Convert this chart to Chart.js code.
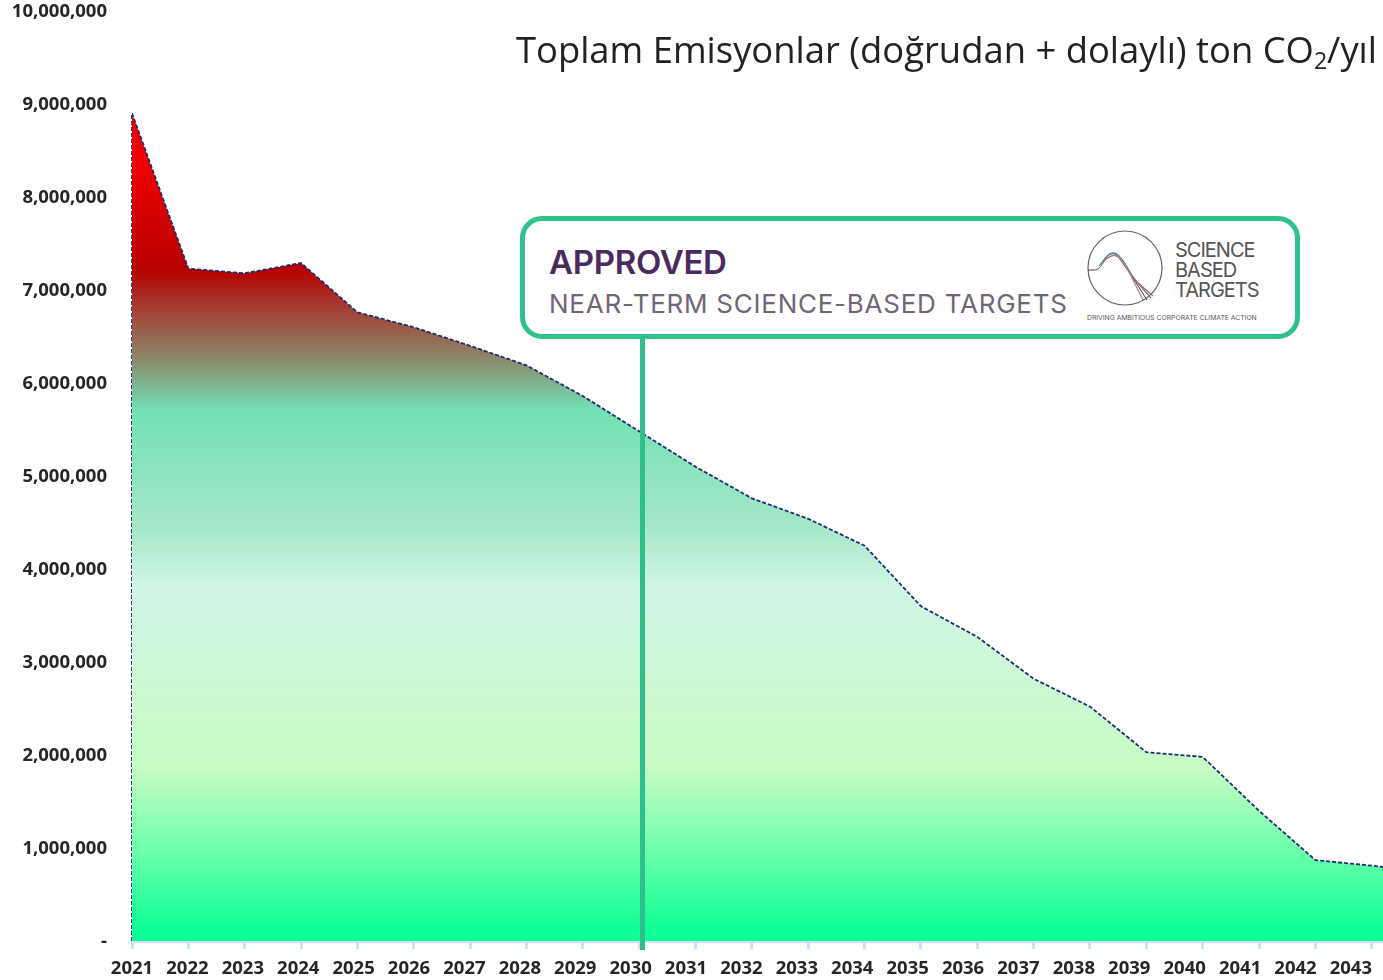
<!DOCTYPE html>
<html lang="tr">
<head>
<meta charset="utf-8">
<script src="https://cdn.jsdelivr.net/npm/chart.js@4/dist/chart.umd.min.js"></script>
<style>
html,body{margin:0;padding:0;background:#fff;width:1383px;height:980px;overflow:hidden}
#wrap{position:relative;width:1383px;height:980px}
canvas{position:absolute;left:0;top:0}
#title{position:absolute;right:6px;top:25px;font:36.4px "Open Sans",sans-serif;color:#222;white-space:nowrap;line-height:48px}
#title sub{font-size:23px;line-height:0;vertical-align:-6px}
#stem{position:absolute;left:640px;top:336px;width:5px;height:614px;background:#2fbf8a}
#box{position:absolute;left:520px;top:216px;width:770px;height:113px;border:5px solid #2cc28a;border-radius:22px;background:#fff}
#appr{position:absolute;left:549px;top:241px;font:600 33px Inter,sans-serif;letter-spacing:-.3px;color:#4a2a5f;white-space:nowrap;line-height:42px}
#near{position:absolute;left:549px;top:287px;font:400 26px Inter,sans-serif;letter-spacing:.75px;color:#6f6678;white-space:nowrap;line-height:34px}
#logo{position:absolute;left:1085px;top:228px}
.sb{position:absolute;left:1175px;font:400 20px Inter,sans-serif;letter-spacing:-1px;color:#555;line-height:22px;white-space:nowrap}
#tag{position:absolute;left:1087px;top:313px;font:400 6.8px Inter,sans-serif;color:#555;white-space:nowrap;line-height:10px}
</style>
</head>
<body>
<div id="wrap">
<canvas id="c" width="1383" height="980"></canvas>
<div id="title">Toplam Emisyonlar (doğrudan + dolaylı) ton CO<sub>2</sub>/yıl</div>
<div id="stem"></div>
<div id="box"></div>
<div id="appr">APPROVED</div>
<div id="near">NEAR-TERM SCIENCE-BASED TARGETS</div>
<svg id="logo" width="82" height="82" viewBox="0 0 82 82" fill="none">
<circle cx="40" cy="40" r="37" stroke="#666" stroke-width="1.2"/>
<path d="M3 42 H11 C18 40 20 26 27 25 C35 24 40 36 48 50 L62 72" stroke="#444" stroke-width="1"/>
<path d="M14 38 C20 30 24 24 30 26 C38 29 42 40 50 52 L66 70" stroke="#3f8fa0" stroke-width="1.2"/>
<path d="M18 34 C24 28 30 25 34 30 C40 38 44 44 52 54 L68 68" stroke="#b05a5a" stroke-width="1.2"/>
<path d="M28 27 C36 28 42 40 46 48 L58 72" stroke="#c07a88" stroke-width="1.2"/>
</svg>
<div class="sb" style="top:239px">SCIENCE</div>
<div class="sb" style="top:259px">BASED</div>
<div class="sb" style="top:279px">TARGETS</div>
<div id="tag">DRIVING AMBITIOUS CORPORATE CLIMATE ACTION</div>
</div>
<script>
const categories = [2021,2022,2023,2024,2025,2026,2027,2028,2029,2030,2031,2032,2033,2034,2035,2036,2037,2038,2039,2040,2041,2042,2043,2044];
const emissions = [8900000,7230000,7180000,7290000,6760000,6600000,6400000,6190000,5860000,5480000,5100000,4760000,4540000,4250000,3600000,3270000,2820000,2520000,2030000,1980000,1400000,870000,810000,740000];
const yTickStep = 1000000;
const gradientStops = [[0.064,'#ee0000'],[0.189,'#b80000'],[0.225,'#a83028'],[0.294,'#8d8568'],[0.358,'#72e0b4'],[0.5,'#a5e8c8'],[0.572,'#d0f5e6'],[0.79,'#c8fcc4'],[0.894,'#6affac'],[0.983,'#10ff98'],[1,'#0cff96']];

new Chart(document.getElementById('c'),{
  type:'line',
  data:{datasets:[
    {data:categories.map((c,i)=>({x:c,y:emissions[i]})),
     borderColor:'#1e2c70',borderWidth:1.8,borderDash:[4,2],pointRadius:0,tension:0,fill:'origin',
     backgroundColor(ctx){
       const a=ctx.chart.chartArea; if(!a) return '#6fdcaa';
       const top=ctx.chart.scales.y.getPixelForValue(emissions[0]);
       const g=ctx.chart.ctx.createLinearGradient(0,top,0,a.bottom);
       gradientStops.forEach(s=>g.addColorStop(s[0],s[1]));
       return g;
     }},
    {data:[{x:categories[0],y:0},{x:categories[0],y:emissions[0]}],
     borderColor:'#1e2c70',borderWidth:1.8,borderDash:[4,2],pointRadius:0,fill:false,clip:false}
  ]},
  options:{
    responsive:false,animation:false,
    layout:{padding:{top:11,left:0,right:0,bottom:0}},
    plugins:{legend:{display:false},title:{display:false},tooltip:{enabled:false}},
    scales:{
      x:{type:'linear',position:'bottom',min:2021,max:2043.2,
        ticks:{display:false,stepSize:1,autoSkip:false,includeBounds:false},
        grid:{drawOnChartArea:false,drawTicks:true,tickLength:8,tickColor:'#cfdffa',tickWidth:3},
        border:{color:'#cfdffa',width:3},
        afterFit(s){s.height=8;s.paddingLeft=0;s.paddingRight=0}},
      x2:{type:'linear',position:'bottom',min:2021,max:2043.58,
        ticks:{stepSize:1,autoSkip:false,includeBounds:false,maxRotation:0,padding:1,color:'#262626',
          font:{family:'"Open Sans"',size:18.5,weight:'bold'},callback:v=>String(v)},
        grid:{display:false},border:{display:false},
        afterFit(s){s.height=31;s.paddingLeft=0;s.paddingRight=0}},
      y:{min:0,max:10000000,
        afterFit(s){s.width=132;s.paddingTop=0;s.paddingBottom=0},
        ticks:{stepSize:yTickStep,padding:17,labelOffset:1,color:'#262626',
          font:{family:'"Open Sans"',size:18.5,weight:'bold'},
          callback:v=>v===0?'-':v.toLocaleString('en-US')},
        grid:{display:false},border:{display:false}}
    }
  }
});
</script>
</body>
</html>
